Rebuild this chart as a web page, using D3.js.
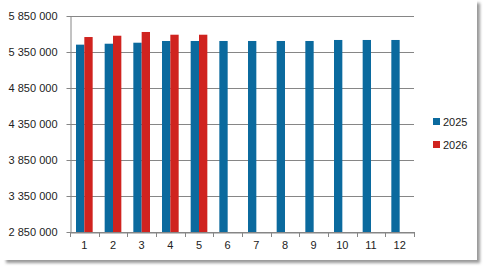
<html>
<head>
  <script src="https://d3js.org/d3.v7.min.js"></script>
</head>
<style>
  body { margin: 0; background: #fff; }
  text { font-family: "Liberation Sans", Arial, sans-serif; fill: #222; }
</style>
<body>
<svg width="486" height="270"></svg>
<script>
  // chart data
  let months = ["1", "2", "3", "4", "5", "6", "7", "8", "9", "10", "11", "12"];
  let series = ["2025", "2026"];
  let values2025 = [5452000, 5465000, 5479000, 5503000, 5503000, 5503000, 5503000, 5503000, 5503000, 5517000, 5517000, 5517000];
  let values2026 = [5558000, 5576000, 5628000, 5590000, 5590000];
  let yTicks = [2850000, 3350000, 3850000, 4350000, 4850000, 5350000, 5850000];
  let colors = ["#0b6a9e", "#d0231f"];

  let svg = d3.select("svg");

  // frame with shadow
  let defs = svg.append("defs");
  defs.append("filter").attr("id", "blur")
          .append("feGaussianBlur").attr("stdDeviation", 1.5);
  svg.append("rect").attr("x", 6).attr("y", 3).attr("width", 474).attr("height", 260)
          .attr("fill", "#999").attr("filter", "url(#blur)");
  svg.append("rect").attr("x", 2).attr("y", -2).attr("width", 475).attr("height", 262)
          .attr("fill", "#fff");

  let pLeft = 70, pRight = 414, pTop = 16, pBottom = 232;

  let y = d3.scaleLinear().domain([2850000, 5850000]).range([pBottom, pTop]);
  let x0 = d3.scaleBand().domain(months).range([pLeft, pRight]);
  let x1 = d3.scaleBand().domain(series).range([0, x0.bandwidth()]).paddingOuter(0.72);

  let fmt = v => d3.format(",")(v).replace(/,/g, " ");

  // gridlines
  svg.append("g").selectAll("line").data(yTicks).enter().append("line")
          .attr("x1", pLeft).attr("x2", pRight)
          .attr("y1", d => Math.round(y(d)) + 0.5).attr("y2", d => Math.round(y(d)) + 0.5)
          .attr("stroke", "#868686").attr("stroke-width", 1);

  // y axis
  let yAxis = svg.append("g").attr("transform", "translate(" + (pLeft + 0.5) + ",0)")
          .call(d3.axisLeft(y).tickValues(yTicks).tickFormat(fmt).tickSize(4).tickSizeOuter(0));
  yAxis.select(".domain").attr("stroke", "#868686");
  yAxis.selectAll(".tick line").attr("stroke", "#868686");
  yAxis.selectAll("text").attr("font-size", 11).attr("x", -13)
          .attr("font-family", "Liberation Sans, Arial, sans-serif").attr("fill", "#222");

  // bars
  let data = months.map((m, i) => ({m: m, v: [values2025[i], values2026[i]]}));
  let groups = svg.append("g").selectAll("g").data(data).enter().append("g")
          .attr("transform", d => "translate(" + x0(d.m) + ",0)");
  groups.selectAll("rect")
          .data(d => series.map((s, j) => ({s: s, v: d.v[j], j: j})).filter(e => e.v !== undefined))
          .enter().append("rect")
          .attr("x", d => x1(d.s))
          .attr("width", x1.bandwidth())
          .attr("y", d => y(d.v))
          .attr("height", d => pBottom - y(d.v))
          .attr("fill", d => colors[d.j]);

  // x axis
  let xAxis = svg.append("g").attr("transform", "translate(0," + (pBottom + 0.5) + ")")
          .call(d3.axisBottom(x0).tickSize(0).tickSizeOuter(0));
  xAxis.select(".domain").attr("stroke", "#868686");
  xAxis.selectAll("text").attr("font-size", 11).attr("dy", "1.2em")
          .attr("font-family", "Liberation Sans, Arial, sans-serif").attr("fill", "#222");
  svg.append("g").selectAll("line").data(months.concat(["end"])).enter().append("line")
          .attr("x1", (d, i) => Math.round(pLeft + i * x0.step()) + 0.5)
          .attr("x2", (d, i) => Math.round(pLeft + i * x0.step()) + 0.5)
          .attr("y1", pBottom).attr("y2", pBottom + 5)
          .attr("stroke", "#868686");

  // legend
  let legend = svg.append("g").selectAll("g").data(series).enter().append("g")
          .attr("transform", (d, i) => "translate(433," + (118 + i * 23) + ")");
  legend.append("rect").attr("width", 7).attr("height", 7).attr("fill", (d, i) => colors[i]);
  legend.append("text").attr("x", 10).attr("y", 7.5).attr("font-size", 11).text(d => d);
</script>
</body>
</html>
